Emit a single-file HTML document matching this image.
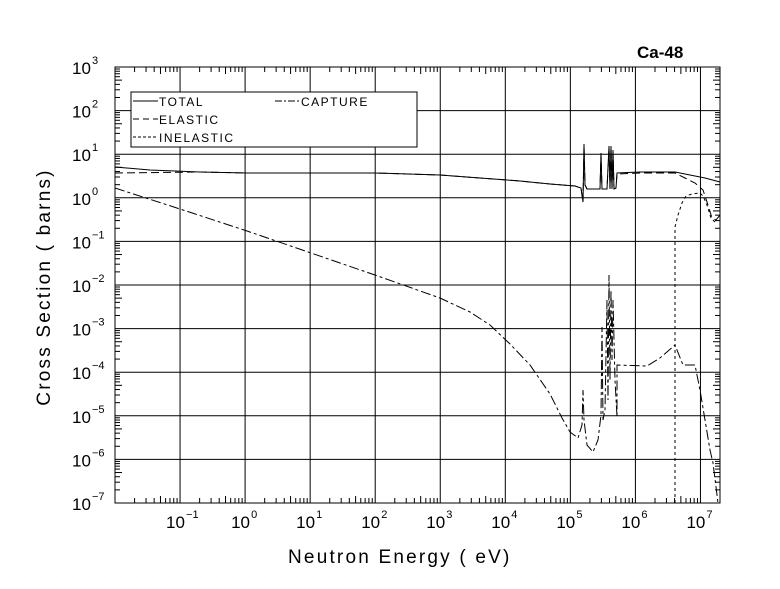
<!DOCTYPE html>
<html><head><meta charset="utf-8"><style>
html,body{margin:0;padding:0;background:#fff;}
svg{display:block;}
text{font-family:"Liberation Sans",sans-serif;fill:#000;}
</style></head><body>
<svg id="s" width="780" height="589" viewBox="0 0 780 589" xmlns="http://www.w3.org/2000/svg">
<rect width="780" height="589" fill="#fff"/>
<g id="grid" stroke="#000" stroke-width="1" fill="none"></g>
<g id="curves" stroke="#000" stroke-width="1" fill="none">
<!-- total -->
<polyline points="115,167 150,170 200,172 247,173 300,173 375,173 440,175 480,178 520,181 550,184 575,186 581,188 583,202 584,144 585,185 587,189 600,189 601,153 602,189 607,189 609,146 610,189 611,146 612,189 613,150 614,189 616,188 617,173 640,172 675,172 690,175 705,178 720,182"/>
<!-- elastic -->
<polyline stroke-dasharray="8,4" points="115,173 200,172 247,173 300,173 375,173 440,175 480,178 520,181 550,184 575,186 581,188 583,202 584,146 585,185 587,189 600,189 601,155 602,189 607,189 609,148 610,189 611,148 612,189 613,152 614,189 616,188 617,174 640,173 675,173 685,178 695,183 703,190 708,205 712,218 716,220 720,215"/>
<!-- inelastic -->
<polyline stroke-dasharray="3,3" points="675,503 675,227 678,215 682,203 686,196 692,194 700,193 703,196 707,205 711,218 715,222"/>
<!-- capture -->
<polyline stroke-dasharray="10,3,3,3" points="115,188 180,209 247,231 311,253 375,275 440,298 470,312 490,325 510,344 530,365 550,394 562,418 570,432 578,438 582,425 583,390 584,420 587,445 593,452 598,440 601,415 602,327 603,420 605,410 607,300 608,400 609,275 610,380 611,290 612,360 613,300 615,380 617,417 617,365 647,366 660,358 675,345 683,365 695,365 700,390 705,420 710,450 713,463 718,503"/>
</g>
<g id="labels"></g>
<rect x="131" y="92" width="286" height="55" fill="#fff" stroke="#000"/>
<line x1="133" y1="101" x2="158" y2="101" stroke="#000"/>
<text x="159" y="106" font-size="12" letter-spacing="1.5">TOTAL</text>
<line x1="133" y1="119" x2="158" y2="119" stroke="#000" stroke-dasharray="6,4"/>
<text x="159" y="124" font-size="12" letter-spacing="1.5">ELASTIC</text>
<line x1="133" y1="137" x2="158" y2="137" stroke="#000" stroke-dasharray="3,2"/>
<text x="159" y="142" font-size="12" letter-spacing="1.5">INELASTIC</text>
<line x1="275" y1="101" x2="300" y2="101" stroke="#000" stroke-dasharray="7,2,2,2"/>
<text x="301" y="106" font-size="12" letter-spacing="1.5">CAPTURE</text>
<text x="637" y="58" font-size="17" font-weight="bold">Ca-48</text>
<text x="288" y="563" font-size="19" letter-spacing="2.2">Neutron Energy ( eV)</text>
<text transform="translate(50,287) rotate(-90)" text-anchor="middle" font-size="19" letter-spacing="2.2">Cross Section ( barns)</text>
</svg>
<script>
var L=115,R=720,T=67,B=503,ns="http://www.w3.org/2000/svg";
function X(l){return L+(l+2)*65.05;}
function Y(l){return T+(3-l)*43.6;}
var g=document.getElementById('grid'),lb=document.getElementById('labels');
function ln(x1,y1,x2,y2){var e=document.createElementNS(ns,'line');e.setAttribute('x1',x1);e.setAttribute('y1',y1);e.setAttribute('x2',x2);e.setAttribute('y2',y2);g.appendChild(e);}
function tx(x,y,s,fs,anchor){var e=document.createElementNS(ns,'text');e.setAttribute('x',x);e.setAttribute('y',y);e.setAttribute('font-size',fs);if(anchor)e.setAttribute('text-anchor',anchor);e.textContent=s;lb.appendChild(e);}
var r=document.createElementNS(ns,'rect');r.setAttribute('x',L);r.setAttribute('y',T);r.setAttribute('width',R-L);r.setAttribute('height',B-T);g.appendChild(r);
for(var d=-2;d<=7;d++){for(var k=1;k<10;k++){var l=d+Math.log10(k);var x=X(l);if(x<=L+0.5||x>=R)continue;
 if(k==1){ln(x,T,x,B);}else{var h=(k==5)?7:5;ln(x,B,x,B-h);ln(x,T,x,T+h);}}
 if(d>=-1){tx(X(d)-14,528,'10',17);tx(X(d)+6,518,String(d).replace('-','\u2212'),11);}}
for(var d=-7;d<=3;d++){for(var k=1;k<10;k++){var l=d+Math.log10(k);var y=Y(l);if(y>B||y<T)continue;
 if(k==1){if(d>-7&&d<3)ln(L,y,R,y);}else{var w=(k==5)?7:5;ln(L,y,L+w,y);ln(R,y,R-w,y);}}
 tx(72,Y(d)+7,'10',17);tx(92,Y(d)-3,String(d).replace('-','\u2212'),11);}
</script>
</body></html>
